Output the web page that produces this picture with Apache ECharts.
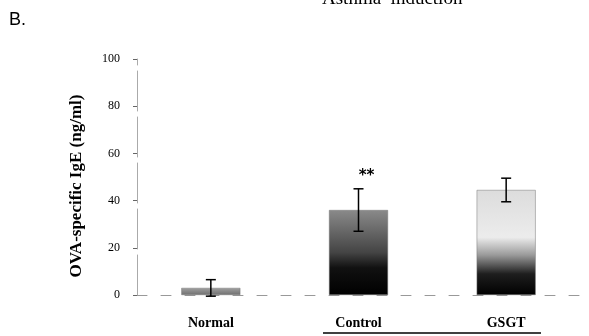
<!DOCTYPE html>
<html>
<head>
<meta charset="utf-8">
<script src="https://cdn.jsdelivr.net/npm/echarts@6/dist/echarts.min.js"></script>
<style>
  html, body { margin: 0; padding: 0; background: #fff; }
  #chart { width: 589px; height: 336px; }
</style>
</head>
<body>
<div id="chart"></div>
<script>
// groups and values
var groups = ['Normal', 'Control', 'GSGT'];
var igeMean = [3, 36, 44.5];
var igeErr = [3.5, 9, 5];
var signif = ['', '**', ''];
var yTicks = [0, 20, 40, 60, 80, 100];

var chart = echarts.init(document.getElementById('chart'));

var barColors = [
    new echarts.graphic.LinearGradient(0, 0, 0, 1, [
        {offset: 0, color: '#a0a0a0'},
        {offset: 1, color: '#6f6f6f'}
    ]),
    new echarts.graphic.LinearGradient(0, 0, 0, 1, [
        {offset: 0, color: '#8a8a8a'},
        {offset: 0.5, color: '#444'},
        {offset: 0.68, color: '#111'},
        {offset: 1, color: '#000'}
    ]),
    new echarts.graphic.LinearGradient(0, 0, 0, 1, [
        {offset: 0, color: '#dcdcdc'},
        {offset: 0.45, color: '#ececec'},
        {offset: 0.62, color: '#9a9a9a'},
        {offset: 0.8, color: '#1e1e1e'},
        {offset: 1, color: '#000'}
    ])
];

var barData = igeMean.map(function(v, i) {
    return {value: v, itemStyle: {color: barColors[i]}};
});

var errData = igeMean.map(function(v, i) {
    return [i, v - igeErr[i], v + igeErr[i]];
});

var option = {
    animation: false,
    backgroundColor: '#fff',
    grid: {left: 137, right: 9, top: 59, bottom: 41},
    xAxis: {
        type: 'category',
        data: groups,
        axisLine: {lineStyle: {color: '#999', width: 1, type: [10, 14]}},
        axisTick: {show: false},
        axisLabel: {
            color: '#000', fontFamily: 'Liberation Serif', fontWeight: 'bold',
            fontSize: 14, margin: 21
        }
    },
    yAxis: {
        type: 'value',
        min: 0, max: 100, interval: 20,
        name: 'OVA-specific IgE (ng/ml)',
        nameLocation: 'middle',
        nameGap: 52,
        nameTextStyle: {
            color: '#000', fontFamily: 'Liberation Serif', fontWeight: 'bold', fontSize: 17,
            padding: [0, 18, 0, 0]
        },
        axisLine: {show: true, lineStyle: {color: '#aaa', width: 1, type: [40, 6]}},
        axisTick: {show: true, length: 4, lineStyle: {color: '#666'}},
        splitLine: {show: false},
        axisLabel: {
            color: '#000', fontFamily: 'Liberation Serif', fontSize: 12, margin: 17,
            formatter: function(v) { return yTicks.indexOf(v) >= 0 ? v : ''; }
        }
    },
    series: [
        {
            type: 'bar',
            data: barData,
            barWidth: 59,
            itemStyle: {borderColor: '#777', borderWidth: 0.5}
        },
        {
            type: 'custom',
            data: errData,
            z: 10,
            renderItem: function(params, api) {
                var x = api.coord([api.value(0), 0])[0];
                var lo = api.coord([api.value(0), api.value(1)]);
                var hi = api.coord([api.value(0), api.value(2)]);
                var cap = 5;
                var style = {stroke: '#000', lineWidth: 1.5};
                var kids = [
                    {type: 'line', shape: {x1: x, y1: lo[1], x2: x, y2: hi[1]}, style: style},
                    {type: 'line', shape: {x1: x - cap, y1: hi[1], x2: x + cap, y2: hi[1]}, style: style},
                    {type: 'line', shape: {x1: x - cap, y1: lo[1], x2: x + cap, y2: lo[1]}, style: style}
                ];
                var mark = signif[params.dataIndex];
                if (mark) {
                    kids.push({
                        type: 'text',
                        style: {
                            text: mark, x: x + 8, y: hi[1] - 5,
                            textAlign: 'center', textVerticalAlign: 'bottom',
                            fill: '#000', font: 'bold 15px "DejaVu Sans"'
                        }
                    });
                }
                return {type: 'group', children: kids};
            }
        }
    ],
    graphic: [
        {
            type: 'text', left: 9, top: 11,
            style: {text: 'B.', fill: '#000', font: '18px "Liberation Sans"'}
        },
        {
            type: 'text', left: 322, top: -10,
            style: {text: 'Asthma  induction', fill: '#000', font: '19px "Liberation Serif"'}
        },
        {
            type: 'line',
            shape: {x1: 323, y1: 333, x2: 541, y2: 333},
            style: {stroke: '#000', lineWidth: 1.5}
        }
    ]
};

chart.setOption(option);
</script>
</body>
</html>
